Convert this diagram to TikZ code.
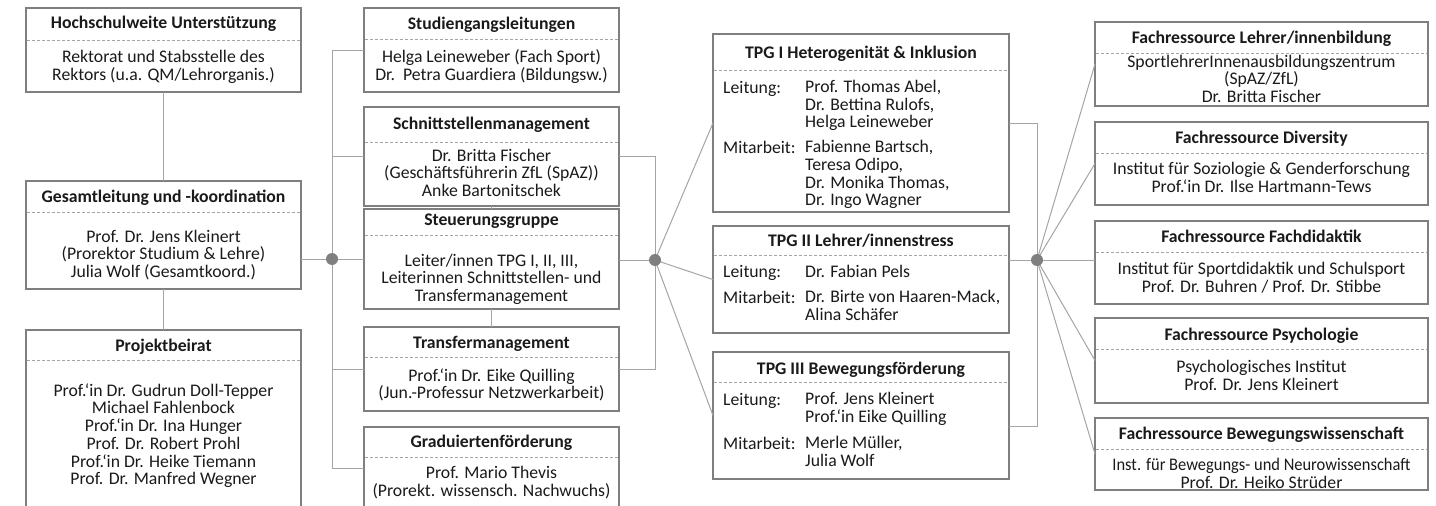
\documentclass[tikz,border=0pt]{standalone}
\usepackage{fontspec}
\usepackage{graphicx}
\setmainfont{Carlito}
\usetikzlibrary{calc}
\definecolor{bordc}{HTML}{7F7F7F}
\definecolor{linec}{HTML}{A5A5A5}
\definecolor{dashc}{HTML}{A5A5A5}
\definecolor{dotc}{HTML}{7F7F7F}
\definecolor{txtc}{HTML}{1A1A1A}
\newcommand\lstrut{\rule[-3.85pt]{0pt}{17.7pt}}
\newcommand\orgbox[6]{%
  \node[orgbox, anchor=north west, minimum width={#4-#2}, minimum height={#6-#3}] (#1) at (#2,#3) {};
  \draw[dashline] (#2+1,#5) -- (#4-1,#5);}
\tikzset{
  orgbox/.style={draw=bordc, line width=1.3pt, fill=white, rectangle, inner sep=0pt, outer sep=0pt},
  dashline/.style={draw=dashc, line width=0.8pt, dash pattern=on 3pt off 2pt},
  conn/.style={draw=linec, line width=1pt},
  hubdot/.style={circle, fill=dotc, minimum size=12pt, inner sep=0pt},
  txt/.style={inner sep=0pt, yshift=-1.5pt, font=\fontsize{17.7}{17.7}\selectfont, text=txtc,
    execute at begin node=\lstrut, execute at end node=\lstrut},
  ttl/.style={txt, font=\fontsize{17.7}{17.7}\selectfont\bfseries},
  ctxt/.style={txt, align=center},
  ltxt/.style={txt, align=left, anchor=west},
}
\begin{document}
\begin{tikzpicture}[x=1pt, y=-1pt]
\useasboundingbox (0,0) rectangle (1436,506);
\clip (0,0) rectangle (1436,506);
\fill[white] (0,0) rectangle (1436,506);

% hub positions
\coordinate (h1c) at (332,259);
\coordinate (h2c) at (655,260);
\coordinate (h3c) at (1037,260);

% boxes
\orgbox{hs}{26}{8}{301}{40}{92}
\orgbox{gl}{26}{181}{301}{212}{289}
\orgbox{pb}{26}{330}{301}{360}{509}
\orgbox{sl}{364}{8}{619}{39}{92}
\orgbox{ss}{364}{107}{619}{142}{206}
\orgbox{st}{364}{209}{619}{235}{309}
\orgbox{tm}{364}{327}{619}{357}{411}
\orgbox{gf}{364}{427}{619}{457}{509}
\orgbox{t1}{713}{34}{1009}{70}{212}
\orgbox{t2}{713}{226}{1009}{255}{333}
\orgbox{t3}{713}{352}{1009}{382}{479}
\orgbox{f1}{1095}{22}{1428}{53}{106}
\orgbox{f2}{1095}{122}{1428}{153}{205}
\orgbox{f3}{1095}{221}{1428}{252}{304}
\orgbox{f4}{1095}{318}{1428}{349}{403}
\orgbox{f5}{1095}{418}{1428}{449}{490}

% left column texts
\node[ttl] (hs-t) at (163.5,22) {Hochschulweite Unterstützung};
\node[ctxt] (hs-b) at (163.5,66) {Rektorat und Stabsstelle des\\Rektors (u.a. QM/Lehrorganis.)};
\node[ttl] (gl-t) at (163.5,196) {Gesamtleitung und -koordination};
\node[ctxt] (gl-b) at (163.5,254) {Prof. Dr. Jens Kleinert\\(Prorektor Studium \& Lehre)\\Julia Wolf (Gesamtkoord.)};
\node[ttl] (pb-t) at (163.5,345) {Projektbeirat};
\node[ctxt] (pb-b) at (163.5,434.5) {Prof.‘in Dr. Gudrun Doll-Tepper\\Michael Fahlenbock\\Prof.‘in Dr. Ina Hunger\\Prof. Dr. Robert Prohl\\Prof.‘in Dr. Heike Tiemann\\Prof. Dr. Manfred Wegner};

% middle column texts
\node[ttl] (sl-t) at (491.5,23) {Studiengangsleitungen};
\node[ctxt] (sl-b) at (491.5,65.5) {Helga Leineweber (Fach Sport)\\Dr.\ \ Petra Guardiera (Bildungsw.)};
\node[ttl] (ss-t) at (491.5,123) {Schnittstellenmanagement};
\node[ctxt] (ss-b) at (491.5,173) {Dr. Britta Fischer\\(Geschäftsführerin ZfL (SpAZ))\\Anke Bartonitschek};
\node[ttl] (st-t) at (491.5,219) {Steuerungsgruppe};
\node[ctxt] (st-b) at (491.5,278) {Leiter/innen TPG I, II, III,\\Leiterinnen Schnittstellen- und\\Transfermanagement};
\node[ttl] (tm-t) at (491.5,342) {Transfermanagement};
\node[ctxt] (tm-b) at (491.5,384) {Prof.‘in Dr. Eike Quilling\\(Jun.-Professur Netzwerkarbeit)};
\node[ttl] (gf-t) at (491.5,441) {Graduiertenförderung};
\node[ctxt] (gf-b) at (491.5,482) {Prof. Mario Thevis\\(Prorekt. wissensch. Nachwuchs)};

% TPG texts
\node[ttl] (t1-t) at (861,52) {TPG I Heterogenität \& Inklusion};
\node[ltxt] (t1-l1) at (723,87) {Leitung:};
\node[ltxt] (t1-n1) at (805,104.3) {Prof. Thomas Abel,\\Dr. Bettina Rulofs,\\Helga Leineweber};
\node[ltxt] (t1-l2) at (723,147) {Mitarbeit:};
\node[ltxt] (t1-n2) at (805,173.7) {Fabienne Bartsch,\\Teresa Odipo,\\Dr. Monika Thomas,\\Dr. Ingo Wagner};
\node[ttl] (t2-t) at (861,240) {TPG II Lehrer/innenstress};
\node[ltxt] (t2-l1) at (723,271) {Leitung:};
\node[ltxt] (t2-n1) at (805,271) {Dr. Fabian Pels};
\node[ltxt] (t2-l2) at (723,297) {Mitarbeit:};
\node[ltxt] (t2-n2) at (805,305.5) {Dr. Birte von Haaren-Mack,\\Alina Schäfer};
\node[ttl] (t3-t) at (861,368) {TPG III Bewegungsförderung};
\node[ltxt] (t3-l1) at (723,399) {Leitung:};
\node[ltxt] (t3-n1) at (805,408) {Prof. Jens Kleinert\\Prof.‘in Eike Quilling};
\node[ltxt] (t3-l2) at (723,443) {Mitarbeit:};
\node[ltxt] (t3-n2) at (805,451.5) {Merle Müller,\\Julia Wolf};

% right column texts
\node[ttl] (f1-t) at (1261.5,37) {Fachressource Lehrer/innenbildung};
\node[ctxt] (f1-b) at (1261.5,79) {SportlehrerInnenausbildungszentrum\\(SpAZ/ZfL)\\Dr. Britta Fischer};
\node[ttl] (f2-t) at (1261.5,137) {Fachressource Diversity};
\node[ctxt] (f2-b) at (1261.5,178) {Institut für Soziologie \& Genderforschung\\Prof.‘in Dr. Ilse Hartmann-Tews};
\node[ttl] (f3-t) at (1261.5,236) {Fachressource Fachdidaktik};
\node[ctxt] (f3-b) at (1261.5,278) {Institut für Sportdidaktik und Schulsport\\Prof. Dr. Buhren / Prof. Dr. Stibbe};
\node[ttl] (f4-t) at (1261.5,334) {Fachressource Psychologie};
\node[ctxt] (f4-b) at (1261.5,376) {Psychologisches Institut\\Prof. Dr. Jens Kleinert};
\node[ttl] (f5-t) at (1261.5,433) {Fachressource Bewegungswissenschaft};
\node[ctxt] (f5-b) at (1261.5,473.5) {\scalebox{0.93}[1]{Inst. für Bewegungs- und Neurowissenschaft}\\Prof. Dr. Heiko Strüder};

% connectors
\draw[conn] (hs.south) -- (gl.north);
\draw[conn] (gl.south) -- (pb.north);
\draw[conn] (gl.east |- h1c) -- (h1c);
\draw[conn] (h1c) |- (sl.west);
\draw[conn] (h1c) |- (ss.west);
\draw[conn] (h1c) -- (h1c -| st.west);
\draw[conn] (h1c) |- (tm.west);
\draw[conn] (h1c) |- (gf.west);
\draw[conn] (ss.south) -- (st.north);
\draw[conn] (st.south) -- (tm.north);
\draw[conn] (ss.east) -| (h2c);
\draw[conn] (h2c -| st.east) -- (h2c);
\draw[conn] (tm.east) -| (h2c);
\draw[conn] (h2c) -- (t1.west);
\draw[conn] (h2c) -- (t2.west);
\draw[conn] (h2c) -- (t3.west);
\draw[conn] (t1.east) -| (h3c);
\draw[conn] (h3c -| t2.east) -- (h3c);
\draw[conn] ($(t3.east)+(0,10.5)$) -| (h3c);
\draw[conn] (h3c) -- (f1.west);
\draw[conn] (h3c) -- (f2.west);
\draw[conn] (h3c) -- (h3c -| f3.west);
\draw[conn] (h3c) -- (f4.west);
\draw[conn] (h3c) -- (f5.west);

% hub dots
\node[hubdot] (h1) at (h1c) {};
\node[hubdot] (h2) at (h2c) {};
\node[hubdot] (h3) at (h3c) {};
\end{tikzpicture}
\end{document}
